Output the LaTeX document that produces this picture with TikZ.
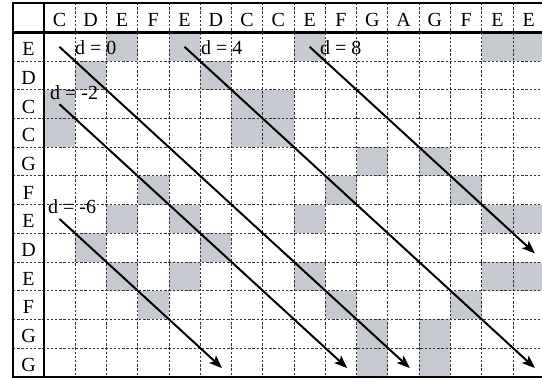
\documentclass[tikz,border=0pt]{standalone}
\usepackage{fontspec}
\setmainfont{Liberation Serif}
\usetikzlibrary{arrows.meta,calc}
\definecolor{cellgray}{RGB}{198,201,208}
\begin{document}
\begin{tikzpicture}[x=1pt,y=-1pt,
  gridline/.style={dash pattern=on 2.4pt off 1.8pt, line width=0.8pt, black!80},
  frame/.style={line width=2.2pt, black},
  note/.style={font=\fontsize{20}{20}\selectfont, inner sep=0pt, anchor=base},
  dlabel/.style={font=\fontsize{20}{20}\selectfont, inner sep=0pt, anchor=base west},
  diag/.style={line width=2pt, black, -{Stealth[length=13pt,width=10pt,inset=3pt]}},
  hit/.style={fill=cellgray, draw=none}]
\def\xo{43.8}\def\yo{32.5}\def\cellw{31.28}\def\cellh{28.68}
\useasboundingbox (0,0) rectangle (542,379);
\clip (0,0) rectangle (542,379);
% shaded cells
\foreach \r/\c in {1/3,1/5,1/9,1/15,1/16,
  2/2,2/6,
  3/1,3/7,3/8,
  4/1,4/7,4/8,
  5/11,5/13,
  6/4,6/10,6/14,
  7/3,7/5,7/9,7/15,7/16,
  8/2,8/6,
  9/3,9/5,9/9,9/15,9/16,
  10/4,10/10,10/14,
  11/11,11/13,
  12/11,12/13}
  \fill[hit] ({\xo+(\c-1)*\cellw},{\yo+(\r-1)*\cellh}) rectangle ++(\cellw,\cellh);
% dashed grid
\foreach \k in {1,...,16}
  \draw[gridline] ({\xo+\k*\cellw},3) -- ({\xo+\k*\cellw},376.7);
\foreach \k in {1,...,11}
  \draw[gridline] (13,{\yo+\k*\cellh}) -- (560,{\yo+\k*\cellh});
% frame
\draw[frame] (560,3) -- (13,3) -- (13,376.7) -- (560,376.7);
\draw[frame] (\xo,3) -- (\xo,376.7);
\draw[frame] (13,\yo) -- (560,\yo);
% column headers
\foreach \n [count=\c] in {C,D,E,F,E,D,C,C,E,F,G,A,G,F,E,E}
  \node[note] (h\c) at ({\xo+(\c-0.5)*\cellw},26.7) {\n};
% row headers
\foreach \n [count=\r] in {E,D,C,C,G,F,E,D,E,F,G,G}
  \node[note] (r\r) at (28.5,{\yo+(\r-0.5)*\cellh+9}) {\n};
% diagonal start / end points
\coordinate (s0) at ({\xo+0.5*\cellw},{\yo+0.5*\cellh});
\coordinate (e0) at ({\xo+11.7*\cellw},{\yo+11.7*\cellh});
\coordinate (s4) at ({\xo+4.5*\cellw},{\yo+0.5*\cellh});
\coordinate (e4) at ({\xo+15.7*\cellw},{\yo+11.7*\cellh});
\coordinate (s8) at ({\xo+8.5*\cellw},{\yo+0.5*\cellh});
\coordinate (e8) at ({\xo+15.7*\cellw},{\yo+7.7*\cellh});
\coordinate (sm2) at ({\xo+0.5*\cellw},{\yo+2.5*\cellh});
\coordinate (em2) at ({\xo+9.7*\cellw},{\yo+11.7*\cellh});
\coordinate (sm6) at ({\xo+0.5*\cellw},{\yo+6.5*\cellh});
\coordinate (em6) at ({\xo+5.7*\cellw},{\yo+11.7*\cellh});
\draw[diag] (s0) -- (e0);
\draw[diag] (s4) -- (e4);
\draw[diag] (s8) -- (e8);
\draw[diag] (sm2) -- (em2);
\draw[diag] (sm6) -- (em6);
% labels
\node[dlabel] (l0) at (75,55) {d = 0};
\node[dlabel] (l4) at (201,55) {d = 4};
\node[dlabel] (l8) at (320,55) {d = 8};
\node[dlabel] (lm2) at (50,100) {d = -2};
\node[dlabel] (lm6) at (48,214) {d = -6};
\end{tikzpicture}
\end{document}
